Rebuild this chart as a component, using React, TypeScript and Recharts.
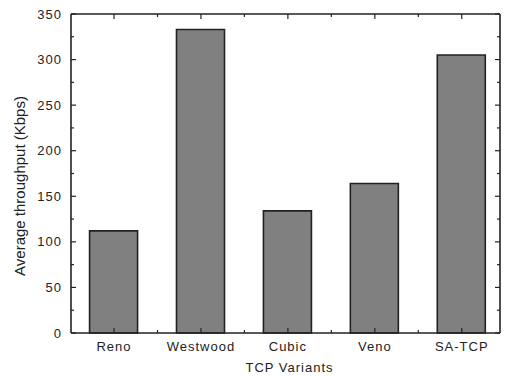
import { ComposedChart, Bar, Line, XAxis, YAxis } from 'recharts'

const variants = ['Reno', 'Westwood', 'Cubic', 'Veno', 'SA-TCP']
const throughput = [112, 333, 134, 164, 305]
const yTicks = [0, 25, 50, 75, 100, 125, 150, 175, 200, 225, 250, 275, 300, 325, 350]
const barTicks = [1, 2, 3, 4, 5]
const xTicks = [1, 1.5, 2, 2.5, 3, 3.5, 4, 4.5, 5]

const data = variants.map((name, i) => ({ name, pos: i + 1, value: throughput[i] }))

const INK = '#222'
const FONT = 'Arial, "Liberation Sans", sans-serif'
const Y_MAX = 350

const LeftTick = (props: any) => {
  const { x, y, payload } = props
  const major = payload.value % 50 === 0
  return (
    <g>
      <line x1={x} y1={y} x2={x + (major ? 5 : 3)} y2={y} stroke={INK} strokeWidth={1.2} />
      {major && (
        <text x={x - 9} y={y + 4.5} textAnchor="end" fontSize={13} letterSpacing={1} fill={INK} fontFamily={FONT}>
          {payload.value}
        </text>
      )}
    </g>
  )
}

const RightTick = (props: any) => {
  const { x, y, payload } = props
  const major = payload.value % 50 === 0
  return <line x1={x} y1={y} x2={x - (major ? 5 : 3)} y2={y} stroke={INK} strokeWidth={1.2} />
}

const BottomTick = (props: any) => {
  const { x, y, payload } = props
  const major = Number.isInteger(payload.value)
  return (
    <g>
      <line x1={x} y1={y} x2={x} y2={y - (major ? 5 : 3)} stroke={INK} strokeWidth={1.2} />
      {major && (
        <text x={x} y={y + 18} textAnchor="middle" fontSize={13} letterSpacing={1} fill={INK} fontFamily={FONT}>
          {variants[payload.value - 1]}
        </text>
      )}
    </g>
  )
}

// top frame ticks point down into the plot
const TopTick = (props: any) => {
  const { x, y, payload } = props
  const major = Number.isInteger(payload.value)
  return <line x1={x} y1={y} x2={x} y2={y + (major ? 5 : 3)} stroke={INK} strokeWidth={1.2} />
}

const YTitle = () => (
  <text
    x={19}
    y={186}
    transform="rotate(-90, 19, 186)"
    textAnchor="middle"
    dominantBaseline="central"
    fontSize={15}
    fill={INK}
    fontFamily={FONT}
  >
    Average throughput (Kbps)
  </text>
)

const XTitle = (props: any) => {
  const { viewBox } = props
  const cx = viewBox.x + viewBox.width / 2 + 4
  return (
    <text x={cx} y={372} textAnchor="middle" fontSize={13} letterSpacing={1} fill={INK} fontFamily={FONT}>
      TCP Variants
    </text>
  )
}

const domainX: [number, number] = [0.505, 5.44]
const axisLine = { stroke: INK, strokeWidth: 1.6 }

export default function App() {
  return (
    <div style={{ position: 'fixed', left: 0, top: 0, width: 506, height: 376, background: '#fff' }}>
      <ComposedChart width={506} height={376} data={data} margin={{ top: 14, right: 0, bottom: 0, left: 0 }}>
        <XAxis
          xAxisId="bars"
          dataKey="pos"
          type="number"
          domain={domainX}
          allowDataOverflow
          ticks={barTicks}
          height={0}
          hide
        />
        <XAxis
          xAxisId="bottom"
          dataKey="pos"
          type="number"
          domain={domainX}
          allowDataOverflow
          ticks={xTicks}
          interval={0}
          height={43}
          tickSize={0}
          tickMargin={0}
          tickLine={false}
          axisLine={axisLine}
          tick={<BottomTick />}
          label={<XTitle />}
        />
        <YAxis
          yAxisId="left"
          domain={[0, Y_MAX]}
          ticks={yTicks}
          interval={0}
          width={71}
          tickSize={0}
          tickMargin={0}
          tickLine={false}
          axisLine={axisLine}
          tick={<LeftTick />}
          label={<YTitle />}
        />
        <YAxis
          yAxisId="right"
          orientation="right"
          domain={[0, Y_MAX]}
          ticks={yTicks}
          interval={0}
          width={6}
          tickSize={0}
          tickMargin={0}
          tickLine={false}
          axisLine={axisLine}
          tick={<RightTick />}
        />
        <Bar
          xAxisId="bars"
          yAxisId="left"
          dataKey="value"
          barSize={48}
          fill="#808080"
          stroke={INK}
          strokeWidth={1.6}
          isAnimationActive={false}
        />
        {/* invisible series so the right axis gets a domain and renders */}
        <Line
          xAxisId="bottom"
          yAxisId="right"
          dataKey="value"
          stroke="none"
          dot={false}
          activeDot={false}
          isAnimationActive={false}
        />
      </ComposedChart>

      {/* thin overlay chart: its bottom axis is the top edge of the frame */}
      <div style={{ position: 'absolute', left: 0, top: 0, pointerEvents: 'none' }}>
        <ComposedChart width={506} height={21} data={data} margin={{ top: 0, right: 6, bottom: 0, left: 71 }}>
          <XAxis
            xAxisId="topEdge"
            dataKey="pos"
            type="number"
            domain={domainX}
            allowDataOverflow
            ticks={xTicks}
            interval={0}
            height={7}
            tickSize={0}
            tickMargin={0}
            tickLine={false}
            axisLine={axisLine}
            tick={<TopTick />}
          />
          <YAxis yAxisId="topEdgeY" domain={[0, Y_MAX]} width={0} hide />
          <Line
            xAxisId="topEdge"
            yAxisId="topEdgeY"
            dataKey="value"
            stroke="none"
            dot={false}
            activeDot={false}
            isAnimationActive={false}
          />
        </ComposedChart>
      </div>
    </div>
  )
}
